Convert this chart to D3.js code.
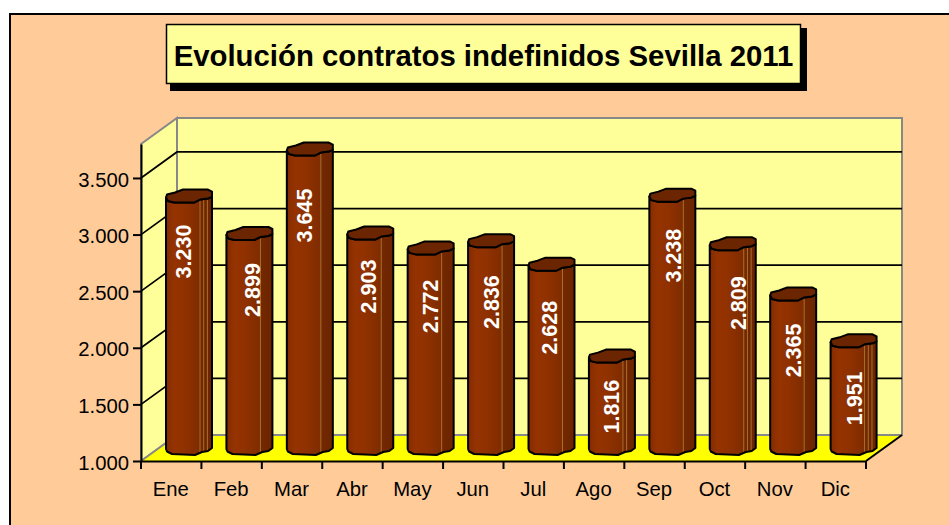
<!DOCTYPE html>
<html><head><meta charset="utf-8">
<script src="https://cdn.jsdelivr.net/npm/d3@7/dist/d3.min.js"></script>
<style>html,body{margin:0;padding:0;background:#fff;overflow:hidden}svg{display:block}text{font-family:"Liberation Sans",Arial,sans-serif}</style>
</head><body><script>
const months = ["Ene","Feb","Mar","Abr","May","Jun","Jul","Ago","Sep","Oct","Nov","Dic"];
const values = [3230,2899,3645,2903,2772,2836,2628,1816,3238,2809,2365,1951];
const yTicks = [1000,1500,2000,2500,3000,3500];
const title = "Evolución contratos indefinidos Sevilla 2011";

// Label placement nudges, relative to each column
const labelDx = [-6,3,-5,-2,0,0,-2,0,1,6,0,1];
const labelDy = [49,50,60,47,52,55,57,44,54,53,50,51];
const facetCount = [3,1,1,1,1,1,1,2,1,3,1,3];

const W = 949, H = 525;
const plotLeft = 141, plotRight = 866, plotBottom = 461, plotTop = 144;
const depthX = 36, depthY = -26;
const barOffX = 25, barOffY = -6, barW = 46;

const fmt = d => d3.format(",")(d).replace(",", ".");
const svg = d3.select("body").append("svg").attr("width", W).attr("height", H);
const x = d3.scaleBand().domain(months).range([plotLeft, plotRight]);
const y = d3.scaleLinear().domain([1000, 3800]).range([plotBottom, plotTop]);

const defs = svg.append("defs");
const grad = defs.append("linearGradient").attr("id", "col");
[[0,"#7e2a00"],[.06,"#8a2e00"],[.18,"#953300"],[.4,"#903100"],[.72,"#7f2c00"],[.74,"#732800"],[1,"#6c2500"]]
  .forEach(([o,c]) => grad.append("stop").attr("offset", o).attr("stop-color", c));

// Background
svg.append("rect").attr("x",10).attr("y",14).attr("width",W+10).attr("height",H+10)
  .attr("fill","#ffcc99").attr("stroke","#000").attr("stroke-width",2);

// Title
svg.append("rect").attr("x",170).attr("y",28).attr("width",637).attr("height",63).attr("fill","#000");
svg.append("rect").attr("x",166.5).attr("y",24.5).attr("width",634).attr("height",59)
  .attr("fill","#ffff99").attr("stroke","#000").attr("stroke-width",1.5);
svg.append("text").attr("x",483.5).attr("y",66).attr("text-anchor","middle")
  .attr("font-size",29.35).attr("font-weight","bold").attr("fill","#000").text(title);

// Walls
const yTop = y.range()[1];
svg.append("rect").attr("x",plotLeft+depthX).attr("y",yTop+depthY)
  .attr("width",plotRight-plotLeft).attr("height",plotBottom-yTop)
  .attr("fill","#ffff99").attr("stroke","#888").attr("stroke-width",2);
svg.append("path").attr("d",d3.line()([[plotLeft,yTop],[plotLeft+depthX,yTop+depthY],[plotLeft+depthX,plotBottom+depthY],[plotLeft,plotBottom]])+"Z")
  .attr("fill","#ffff99").attr("stroke","#888").attr("stroke-width",2);
svg.append("path").attr("d",d3.line()([[plotLeft,plotBottom],[plotRight,plotBottom],[plotRight+depthX,plotBottom+depthY],[plotLeft+depthX,plotBottom+depthY]])+"Z")
  .attr("fill","#ffff00");
svg.append("path").attr("d",d3.line()([[plotLeft,plotBottom],[plotLeft+depthX,plotBottom+depthY],[plotRight+depthX,plotBottom+depthY]])).attr("fill","none").attr("stroke","#888").attr("stroke-width",2);
svg.append("path").attr("d",d3.line()([[plotRight,plotBottom],[plotRight+depthX,plotBottom+depthY]])).attr("stroke","#000").attr("stroke-width",2);

// Gridlines
yTicks.slice(1).forEach(t => {
  svg.append("path").attr("fill","none").attr("stroke","#000").attr("stroke-width",1.7)
    .attr("d",d3.line()([[plotLeft,y(t)],[plotLeft+depthX,y(t)+depthY],[plotRight+depthX,y(t)+depthY]]));
});

// Axes
const yAxis = svg.append("g").attr("transform",`translate(${plotLeft},0)`)
  .call(d3.axisLeft(y).tickValues(yTicks).tickFormat(fmt).tickSize(8).tickSizeOuter(0).tickPadding(4));
const xAxis = svg.append("g").attr("transform",`translate(0,${plotBottom})`)
  .call(d3.axisBottom(x).tickSize(0).tickPadding(21));
[yAxis,xAxis].forEach(g => {
  g.selectAll("text").attr("font-size",20.3).attr("fill","#000").style("font-family",'"Liberation Sans",Arial,sans-serif');
  g.selectAll("line").attr("stroke","#000").attr("stroke-width",2);
  g.select(".domain").attr("stroke","#000").attr("stroke-width",2);
});
yAxis.selectAll("text").attr("dy","0.4em");
xAxis.selectAll("text").attr("dx",-0.5);
months.forEach(m => xAxis.append("line").attr("x1",x(m)).attr("x2",x(m)).attr("y1",0).attr("y2",8).attr("stroke","#000").attr("stroke-width",2));
xAxis.append("line").attr("x1",plotRight).attr("x2",plotRight).attr("y1",0).attr("y2",8).attr("stroke","#000").attr("stroke-width",2);

// Columns
const topRim = [[0,-5],[1,-8],[9,-10],[17,-13],[42,-13],[46,-11],[46,-6]];
const frontEdge = [[46,-6],[42,-4],[34,-3],[28,0],[8,0],[2,-1.5],[0,-5]];
const baseEdge = [[46,-7],[42,-4],[36,-3],[29,0],[6,-1],[1,-3.5],[0,-6]];

values.forEach((v,i) => {
  const x0 = x(months[i]) + barOffX;
  const yt = y(v) + barOffY;
  const yb = plotBottom + barOffY;
  const g = svg.append("g");
  const bodyPts = [
    ...frontEdge.slice().reverse().map(([a,b]) => [x0+a, yt+b]),
    ...baseEdge.map(([a,b]) => [x0+a, yb+b])
  ];
  g.append("path").attr("d",d3.line()(bodyPts)+"Z").attr("fill","url(#col)").attr("stroke","none");
  for (let k=0;k<facetCount[i];k++){
    const fx = x0 + 34 + k*3.7;
    g.append("line").attr("x1",fx).attr("x2",fx).attr("y1",yt-3).attr("y2",yb-3)
      .attr("stroke","#a9702c").attr("stroke-width",1);
  }
  g.append("path").attr("d",d3.line()(bodyPts)+"Z").attr("fill","none").attr("stroke","#000").attr("stroke-width",2).attr("stroke-linejoin","round");
  const rimPts = [...topRim, ...frontEdge.slice(1)].map(([a,b]) => [x0+a, yt+b]);
  g.append("path").attr("d",d3.line()(rimPts)+"Z").attr("fill","#6b2500").attr("stroke","#000").attr("stroke-width",2).attr("stroke-linejoin","round");
  const lx = x0 + barW/2 + labelDx[i];
  const ly = yt + labelDy[i];
  g.append("text").attr("transform",`translate(${lx},${ly}) rotate(-90)`)
    .attr("text-anchor","middle").attr("dy","0.35em")
    .attr("font-size",21.5).attr("font-weight","bold").attr("fill","#fff").text(fmt(v));
});
</script></body></html>
